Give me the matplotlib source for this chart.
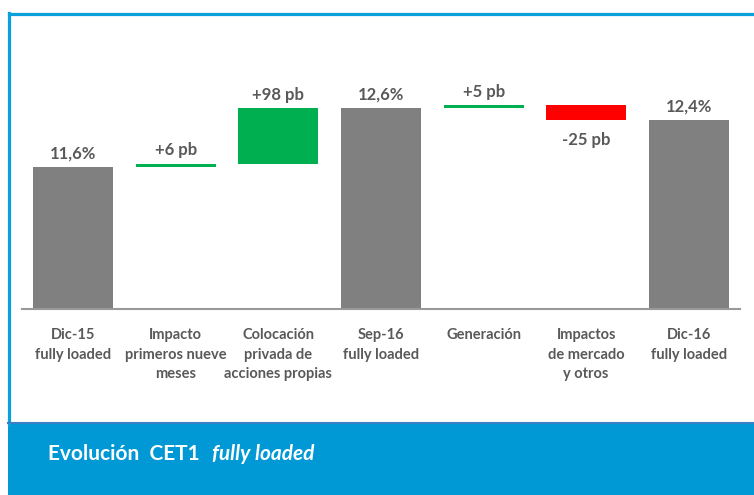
import matplotlib.pyplot as plt
from matplotlib.patches import Rectangle
from matplotlib.lines import Line2D
from matplotlib.text import Annotation

plt.rcParams['font.family'] = ['Lato', 'DejaVu Sans']

# data (pb = basis points)
categories = ["Dic-15\nfully loaded", "Impacto\nprimeros nueve\nmeses",
              "Colocación\nprivada de\nacciones propias", "Sep-16\nfully loaded",
              "Generación", "Impactos\nde mercado\ny otros", "Dic-16\nfully loaded"]
kinds = ["total", "delta", "delta", "total", "delta", "delta", "total"]
values = [11.6, 0.06, 0.98, 12.64, 0.05, -0.25, 12.44]
labels = ["11,6%", "+6 pb", "+98 pb", "12,6%", "+5 pb", "-25 pb", "12,4%"]

GRAY = '#808080'
GREEN = '#00B050'
RED = '#FF0000'
TXT = '#595959'
BLUE = '#0099D5'

fig = plt.figure(figsize=(7.54, 4.95), dpi=100)
W, H = 754, 495
ax = fig.add_axes([22 / W, (H - 309) / H, 718 / W, 289 / H])

# waterfall
running = 0
for i, (k, v) in enumerate(zip(kinds, values)):
    if k == "total":
        bottom, height, col = 0, v, GRAY
        running = v
        top = v
    else:
        bottom = running if v > 0 else running + v
        height = abs(v)
        col = GREEN if v > 0 else RED
        running += v
        top = bottom + height
    ax.bar(i, height, bottom=bottom, width=0.78, color=col, zorder=2)
    if k == "delta" and v < 0:
        ax.annotate(labels[i], (i, bottom), xytext=(0, -9), textcoords='offset points',
                    ha='center', va='top', fontsize=12, fontweight='bold', color=TXT)
    else:
        ax.annotate(labels[i], (i, top), xytext=(0, 6), textcoords='offset points',
                    ha='center', va='baseline', fontsize=12, fontweight='bold', color=TXT)

ax.set_xlim(-0.5, 6.5)
ax.set_ylim(9.096, 14.2)
ax.set_xticks(range(len(categories)))
ax.set_xticklabels(categories, fontsize=10.5, fontweight='bold', color=TXT, linespacing=1.5)
ax.tick_params(axis='x', length=0, pad=14)
ax.set_yticks([])
for s in ['top', 'right', 'left']:
    ax.spines[s].set_visible(False)
ax.spines['bottom'].set_color('#999999')
ax.spines['bottom'].set_linewidth(1.5)
ax.spines['bottom'].set_zorder(3)

# frame and bottom band
fig.add_artist(Line2D([8.5 / W, 1], [1 - 13.5 / H, 1 - 13.5 / H], color='#0AA0DA', lw=2.3))
fig.add_artist(Line2D([8.5 / W, 8.5 / W], [(H - 425) / H, 1 - 12.5 / H], color='#0AA0DA', lw=2.3))
fig.add_artist(Rectangle((7.5 / W, 0), 1, (H - 423) / H, transform=fig.transFigure,
                         facecolor=BLUE, edgecolor='none'))
fig.add_artist(Line2D([7.5 / W, 1], [(H - 423) / H, (H - 423) / H], color='#3A80C4', lw=1.5))

t1 = fig.text(48 / W, (H - 460) / H, "Evolución  CET1", color='white', fontsize=15,
              fontweight='bold', va='baseline', zorder=5)
t2 = Annotation("fully loaded", xy=(1, 0), xycoords=t1, xytext=(9, 0),
                textcoords='offset points', color='white', fontsize=15,
                fontweight='bold', fontstyle='italic', va='bottom', ha='left',
                annotation_clip=False, zorder=5)
fig.add_artist(t2)

fig.savefig('out.png', dpi=100)
